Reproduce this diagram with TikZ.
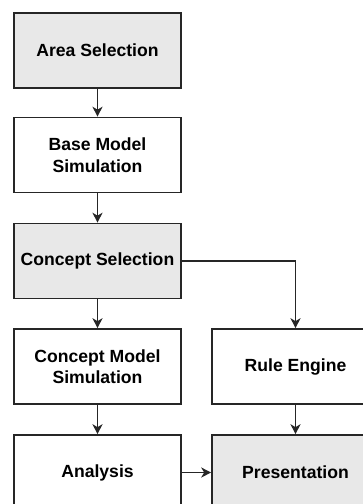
\documentclass[tikz,border=0pt]{standalone}
\usepackage{fontspec}
\setmainfont{Liberation Sans}
\usetikzlibrary{arrows.meta}
\definecolor{boxgray}{RGB}{232,232,232}
\begin{document}
\begin{tikzpicture}[x=1pt,y=-1pt,
  box/.style={draw=black!85,line width=1.6pt,minimum width=167pt,minimum height=75pt,
    inner sep=0pt,align=center,font=\bfseries\fontsize{17.6}{21.5}\selectfont,fill=white},
  grey/.style={box,fill=boxgray},
  conn/.style={draw=black!85,line width=1.5pt,-{Stealth[length=10pt,width=10pt,inset=3pt]}}]
\useasboundingbox (0,0) rectangle (363,504);
\clip (0,0) rectangle (363,504);
\node[grey] (A) at (97.5,50.5) {Area Selection};
\node[box]  (B) at (97.5,155) {Base Model\\Simulation};
\node[grey] (C) at (97.5,261) {Concept Selection};
\node[box]  (D) at (97.5,366.5) {Concept Model\\Simulation};
\node[box]  (E) at (97.5,472.5) {Analysis};
\node[box]  (R) at (295.5,366.5) {Rule Engine};
\node[grey] (P) at (295.5,472.5) {Presentation};
\draw[conn] (A) -- (B);
\draw[conn] (B) -- (C);
\draw[conn] (C) -- (D);
\draw[conn] (D) -- (E);
\draw[conn] (R) -- (P);
\draw[conn] (E) -- (P);
\draw[conn] (C.east) -| (R.north);
\end{tikzpicture}
\end{document}
